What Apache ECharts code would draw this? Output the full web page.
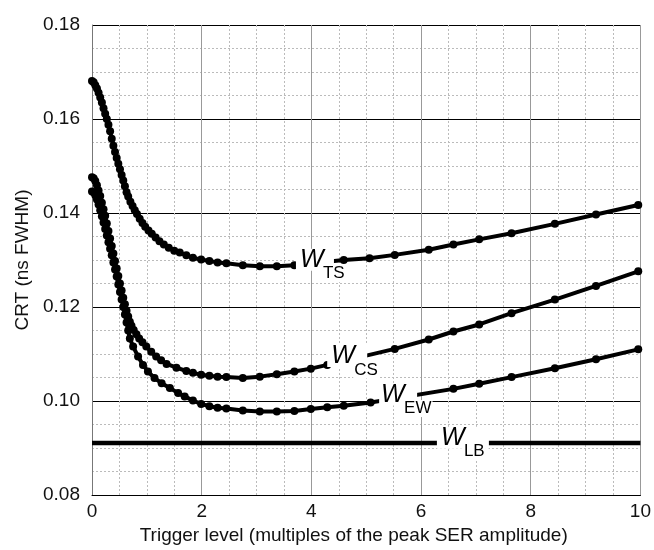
<!DOCTYPE html>
<html>
<head>
<meta charset="utf-8">
<script src="https://cdn.jsdelivr.net/npm/echarts@6/dist/echarts.min.js"></script>
<style>
  html, body { margin: 0; padding: 0; background: #fff; }
  #main { width: 654px; height: 550px; }
</style>
</head>
<body>
<div id="main"></div>
<script>
// trigger level (x) and CRT in ns FWHM (y)
var tsX = [0, 0.03, 0.06, 0.09, 0.12, 0.15, 0.18, 0.21, 0.24, 0.27, 0.30, 0.33, 0.36, 0.39, 0.42, 0.45, 0.48, 0.51, 0.54, 0.57, 0.60, 0.63, 0.66,
    0.70, 0.74, 0.78, 0.82, 0.87, 0.92, 0.97, 1.03, 1.09, 1.16, 1.23, 1.31, 1.40, 1.50, 1.60, 1.72, 1.84, 1.99, 2.14, 2.29, 2.45, 2.75, 3.06, 3.37, 3.69,
    4.59, 5.06, 5.52, 6.14, 6.59, 7.06, 7.65, 8.44, 9.19, 9.96];
var tsY = [0.1681, 0.1678, 0.1672, 0.1665, 0.1656, 0.1646, 0.1635, 0.1623, 0.1611, 0.1600, 0.1588, 0.1574, 0.1558, 0.1543, 0.1530, 0.1517, 0.1505, 0.1493, 0.1481, 0.1469, 0.1457, 0.1444, 0.1435,
    0.1424, 0.1415, 0.1406, 0.1398, 0.1388, 0.1379, 0.1371, 0.1363, 0.1356, 0.1348, 0.1340, 0.1333, 0.1326, 0.1320, 0.1316, 0.1310, 0.1305, 0.1301, 0.1298, 0.1295, 0.1293, 0.1289, 0.1287, 0.1287, 0.1289,
    0.1300, 0.1304, 0.1311, 0.1322, 0.1333, 0.1344, 0.1357, 0.1377, 0.1397, 0.1417];

var csX = [0, 0.03, 0.06, 0.09, 0.12, 0.15, 0.18, 0.21, 0.24, 0.27, 0.30, 0.33, 0.36, 0.39, 0.42, 0.45, 0.48, 0.51, 0.54, 0.57, 0.60, 0.63, 0.66,
    0.69, 0.72, 0.76, 0.81, 0.86, 0.92, 0.99, 1.08, 1.17, 1.26, 1.36, 1.54, 1.72, 1.84, 1.99, 2.14, 2.29, 2.45, 2.75, 3.06, 3.37, 3.69, 3.99, 4.29,
    5.52, 6.14, 6.59, 7.06, 7.65, 8.44, 9.19, 9.96];
var csY = [0.1476, 0.1474, 0.1468, 0.1459, 0.1448, 0.1436, 0.1422, 0.1408, 0.1394, 0.1378, 0.1362, 0.1346, 0.1330, 0.1314, 0.1298, 0.1282, 0.1266, 0.1250, 0.1235, 0.1220, 0.1206, 0.1192, 0.1180,
    0.1169, 0.1160, 0.1151, 0.1142, 0.1133, 0.1125, 0.1116, 0.1105, 0.1095, 0.1087, 0.1079, 0.1071, 0.1064, 0.1060, 0.1056, 0.1054, 0.1052, 0.1051, 0.1049, 0.1052, 0.1057, 0.1063, 0.1069, 0.1077,
    0.1111, 0.1131, 0.1148, 0.1163, 0.1187, 0.1216, 0.1245, 0.1276];

var ewX = [0, 0.03, 0.06, 0.09, 0.12, 0.15, 0.18, 0.21, 0.24, 0.27, 0.30, 0.33, 0.36, 0.39, 0.42, 0.45, 0.48, 0.51, 0.54, 0.57, 0.60, 0.63, 0.66,
    0.69, 0.75, 0.84, 0.93, 1.02, 1.14, 1.27, 1.42, 1.57, 1.69, 1.84, 1.99, 2.14, 2.29, 2.45, 2.75, 3.06, 3.37, 3.69, 3.99, 4.29, 4.59, 5.08,
    6.59, 7.06, 7.65, 8.44, 9.19, 9.96];
var ewY = [0.1446, 0.1444, 0.1438, 0.1429, 0.1418, 0.1406, 0.1393, 0.1380, 0.1366, 0.1352, 0.1338, 0.1324, 0.1310, 0.1295, 0.1280, 0.1265, 0.1248, 0.1232, 0.1216, 0.1200, 0.1184, 0.1167, 0.1150,
    0.1133, 0.1116, 0.1095, 0.1077, 0.1063, 0.1049, 0.1038, 0.1028, 0.1017, 0.1010, 0.1001, 0.0994, 0.0989, 0.0986, 0.0984, 0.0980, 0.0978, 0.0978, 0.0979, 0.0983, 0.0987, 0.0990, 0.0997,
    0.1026, 0.1037, 0.1051, 0.1070, 0.1089, 0.1110];

var lbX = [0, 10];
var lbY = [0.0911, 0.0911];

// curve labels: subscript, W anchor (data coords), white gap [left, right] in px
var labelSubs = ['TS', 'CS', 'EW', 'LB'];
var labelAt = [[3.81, 0.1303], [4.38, 0.1098], [5.29, 0.1016], [6.38, 0.0924]];
var labelGap = [[-5, 33], [-5, 35], [-3, 35], [-5, 47]];

function pairs(xs, ys) {
    return xs.map(function (x, i) { return [x, ys[i]]; });
}

var font = 'Liberation Sans, Arial, sans-serif';

function curve(name, xs, ys) {
    return {
        name: name,
        type: 'line',
        data: pairs(xs, ys),
        symbol: 'circle',
        symbolSize: 8,
        showSymbol: true,
        itemStyle: { color: '#000' },
        lineStyle: { color: '#000', width: 4 },
        animation: false
    };
}

var chart = echarts.init(document.getElementById('main'));
var option = {
    backgroundColor: '#fff',
    animation: false,
    textStyle: { fontFamily: font },
    grid: { left: 92, right: 11, top: 25, bottom: 52 },
    xAxis: {
        type: 'value',
        min: 0, max: 10, interval: 2,
        name: 'Trigger level (multiples of the peak SER amplitude)',
        nameLocation: 'middle',
        nameGap: 30,
        nameTextStyle: { fontSize: 19, color: '#111', fontFamily: font, padding: [0, 25, 0, 0] },
        axisLine: { show: true, lineStyle: { color: '#000', width: 1 } },
        axisTick: { show: false },
        axisLabel: { fontSize: 19, color: '#111', fontFamily: font, margin: 7 },
        splitLine: { show: true, lineStyle: { color: '#999', width: 1 } },
        minorTick: { show: false, splitNumber: 4 },
        minorSplitLine: { show: true, lineStyle: { color: '#bbb', type: [2, 2], width: 1 } }
    },
    yAxis: {
        type: 'value',
        min: 0.08, max: 0.18, interval: 0.02,
        name: 'CRT (ns FWHM)',
        nameLocation: 'middle',
        nameGap: 58,
        nameTextStyle: { fontSize: 19, color: '#111', fontFamily: font },
        axisLine: { show: true, lineStyle: { color: '#777', width: 1 } },
        axisTick: { show: false },
        axisLabel: {
            fontSize: 19, color: '#111', fontFamily: font, margin: 12,
            formatter: function (v) { return v.toFixed(2); }
        },
        splitLine: { show: true, lineStyle: { color: '#000', width: 1 } },
        minorTick: { show: false, splitNumber: 4 },
        minorSplitLine: { show: true, lineStyle: { color: '#bbb', type: [2, 2], width: 1 } }
    },
    series: [
        curve('W_TS', tsX, tsY),
        curve('W_CS', csX, csY),
        curve('W_EW', ewX, ewY),
        {
            name: 'W_LB',
            type: 'line',
            data: pairs(lbX, lbY),
            showSymbol: false,
            symbol: 'none',
            lineStyle: { color: '#000', width: 4.5 },
            animation: false
        }
    ]
};
chart.setOption(option);

// W labels with white boxes cutting the curves
var graphics = [];
labelSubs.forEach(function (sub, i) {
    var p = chart.convertToPixel({ gridIndex: 0 }, labelAt[i]);
    var gx = labelGap[i];
    graphics.push({
        type: 'rect', z: 100,
        shape: { x: p[0] + gx[0], y: p[1] - 10, width: gx[1] - gx[0], height: 22 },
        style: { fill: '#fff' }
    });
    graphics.push({
        type: 'text', z: 101,
        style: {
            text: 'W', x: p[0] - 1, y: p[1] + 1,
            font: 'italic 25px ' + font,
            fill: '#000', verticalAlign: 'middle', align: 'left'
        }
    });
    graphics.push({
        type: 'text', z: 101,
        style: {
            text: sub, x: p[0] + 21, y: p[1] + 15,
            font: '17px ' + font,
            fill: '#000', verticalAlign: 'middle', align: 'left',
            backgroundColor: '#fff', padding: [0, 1, 0, 1]
        }
    });
});
chart.setOption({ graphic: graphics });
</script>
</body>
</html>
